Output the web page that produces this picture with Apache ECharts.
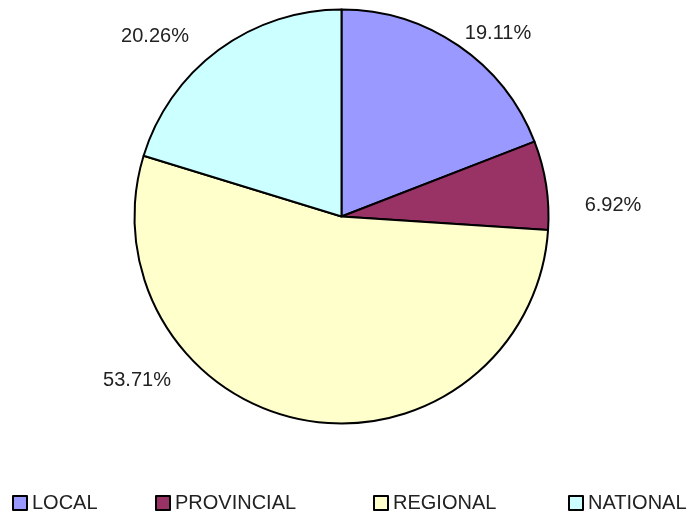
<!DOCTYPE html>
<html>
<head>
<meta charset="utf-8">
<script src="https://cdn.jsdelivr.net/npm/echarts@6/dist/echarts.min.js"></script>
<style>
html,body{margin:0;padding:0;background:#fff;}
#chart{width:694px;height:514px;}
</style>
</head>
<body>
<div id="chart"></div>
<script>
var categories = ['LOCAL', 'PROVINCIAL', 'REGIONAL', 'NATIONAL'];
var values = [19.11, 6.92, 53.71, 20.26];
var colors = ['#9999FF', '#993366', '#FFFFCC', '#CCFFFF'];

var labelPos = [[498, 33], [613, 205], [137, 380], [155, 36]];
var legendLeft = [12, 155, 373, 568];

var chart = echarts.init(document.getElementById('chart'), null, {renderer: 'canvas'});

var legends = categories.map(function (c, i) {
  return {
    data: [c],
    left: legendLeft[i],
    top: 493,
    padding: 0,
    orient: 'horizontal',
    icon: 'rect',
    itemWidth: 14,
    itemHeight: 14,
    selectedMode: false,
    itemStyle: {borderColor: '#000', borderWidth: 2},
    textStyle: {fontFamily: 'Liberation Sans, Arial, sans-serif', fontSize: 20, color: '#222', padding: [2, 0, 0, 0]}
  };
});

chart.setOption({
  animation: false,
  backgroundColor: '#fff',
  legend: legends,
  series: [{
    type: 'pie',
    center: [341.5, 216.5],
    radius: 207,
    startAngle: 90,
    clockwise: true,
    avoidLabelOverlap: false,
    data: categories.map(function (c, i) {
      return {name: c, value: values[i], itemStyle: {color: colors[i]}};
    }),
    itemStyle: {borderColor: '#000', borderWidth: 2},
    label: {
      show: true,
      position: 'outside',
      formatter: function (p) { return p.value.toFixed(2) + '%'; },
      fontFamily: 'Liberation Sans, Arial, sans-serif',
      fontSize: 20,
      color: '#222'
    },
    labelLine: {show: false},
    labelLayout: function (params) {
      var p = labelPos[params.dataIndex];
      return {x: p[0], y: p[1], align: 'center', verticalAlign: 'middle'};
    },
    emphasis: {disabled: true}
  }]
});
</script>
</body>
</html>
